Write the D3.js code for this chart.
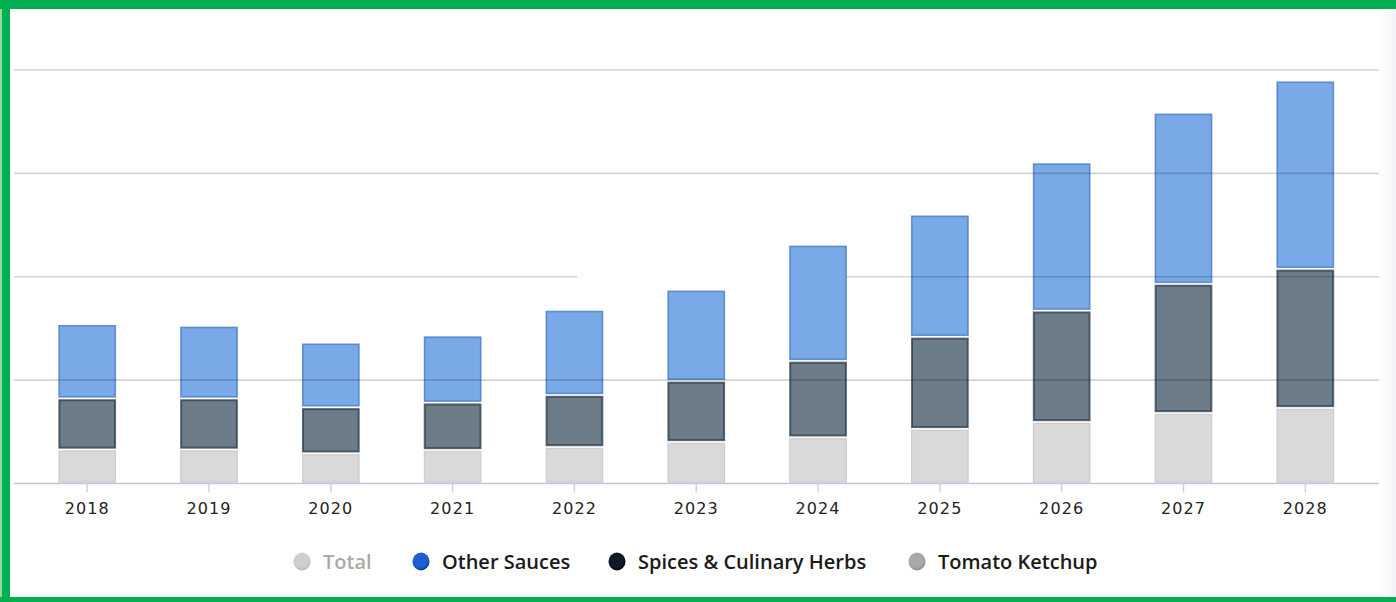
<!DOCTYPE html>
<html>
<head>
<meta charset="utf-8">
<script src="https://cdn.jsdelivr.net/npm/d3@7"></script>
<style>
  html, body { margin: 0; padding: 0; background: #fff; }
  svg { display: block; }
</style>
</head>
<body>
<svg id="chart" width="1396" height="602"></svg>
<script>
// ---- data (units: one gridline step = 100) ----
const years = ["2018","2019","2020","2021","2022","2023","2024","2025","2026","2027","2028"];
const tomatoKetchup = [32.9, 32.9, 29.2, 32.4, 35.3, 40.2, 44.7, 52.8, 59.5, 68.2, 73.1];
const spicesHerbs   = [49.4, 49.4, 44.5, 45.8, 50.3, 59.1, 73.9, 89.1, 107.7, 124.9, 134.6];
const otherSauces   = [71.8, 70.2, 62.5, 64.9, 82.3, 88.1, 112.3, 118.1, 143.3, 165.5, 182.0];
const gridTicks = [0, 100, 200, 300, 400];
const legendItems = ["Total", "Other Sauces", "Spices & Culinary Herbs", "Tomato Ketchup"];

const seriesKeys = ["ketchup", "spices", "other"];
const seriesStyle = {
  ketchup: { fill: "#d9d9d9", stroke: "#c6c6c6", sw: 1.2, so: 0.8 },
  spices:  { fill: "#6c7c89", stroke: "#2b3a48", sw: 2, so: 0.75 },
  other:   { fill: "#79a9e7", stroke: "#4f80c6", sw: 1.6, so: 0.85 }
};
const legendStyle = [
  { dot: "#cfcfcf", rim: "#b5b5b5", text: "#a9a9a9" },
  { dot: "#1b5fd0", rim: "#0c3a8e", text: "#1a1a1a" },
  { dot: "#0e1a28", rim: "#000000", text: "#1a1a1a" },
  { dot: "#a9a9a9", rim: "#8a8a8a", text: "#1a1a1a" }
];

const table = years.map((y, i) => ({
  year: y, ketchup: tomatoKetchup[i], spices: spicesHerbs[i], other: otherSauces[i]
}));

const svg = d3.select("#chart");

// ---- scales ----
const x = d3.scaleBand().domain(years).range([26.3, 1366.2])
  .paddingInner(0.526).paddingOuter(0.263);
const y = d3.scaleLinear().domain([0, 400]).range([483.5, 70]);
const gridX0 = 14, gridX1 = 1379;

// faint right-edge shade
const defs = svg.append("defs");
const shade = defs.append("linearGradient").attr("id", "shade").attr("x1", 0).attr("x2", 1);
shade.append("stop").attr("offset", 0).attr("stop-color", "#ffffff");
shade.append("stop").attr("offset", 1).attr("stop-color", "#f2f3f7");
svg.append("rect").attr("x", 1380).attr("y", 0).attr("width", 16).attr("height", 602).attr("fill", "url(#shade)");

// ---- bars ----
const stack = d3.stack().keys(seriesKeys)(table);
const g = svg.append("g");
stack.forEach(layer => {
  const st = seriesStyle[layer.key];
  g.selectAll(null).data(layer).join("rect")
    .attr("x", d => x(d.data.year) + st.sw / 2)
    .attr("width", x.bandwidth() - st.sw)
    .attr("y", d => y(d[1]) + 0.8 + st.sw / 2)
    .attr("height", d => Math.max(0, y(d[0]) - y(d[1]) - 1.6 - st.sw))
    .attr("fill", st.fill)
    .attr("stroke", st.stroke)
    .attr("stroke-opacity", st.so)
    .attr("stroke-width", st.sw);
});

// ---- gridlines (drawn over bars, translucent) ----
const gridG = svg.append("g");
gridTicks.filter(t => t > 0).forEach(t => {
  if (t === 200) {
    // this line shows a gap in the reference between the 2022 and 2024 columns
    gridG.append("line").attr("x1", gridX0).attr("x2", x("2022") + x.bandwidth() / 2 + 3)
      .attr("y1", y(t)).attr("y2", y(t));
    gridG.append("line").attr("x1", x("2024") + x.bandwidth()).attr("x2", gridX1)
      .attr("y1", y(t)).attr("y2", y(t));
  } else {
    gridG.append("line").attr("x1", gridX0).attr("x2", gridX1).attr("y1", y(t)).attr("y2", y(t));
  }
});
gridG.selectAll("line").attr("stroke", "rgba(0,0,0,0.17)").attr("stroke-width", 1.6);

// ---- x axis ----
svg.append("line").attr("x1", gridX0).attr("x2", gridX1)
  .attr("y1", y(0)).attr("y2", y(0))
  .attr("stroke", "#bfc7da").attr("stroke-width", 1.6);
const xAxis = d3.axisBottom(x).tickSize(9).tickPadding(10);
const ax = svg.append("g").attr("transform", `translate(0,${y(0)})`).call(xAxis);
ax.select(".domain").remove();
ax.selectAll(".tick line").attr("stroke", "#c9d3e6").attr("stroke-width", 1.5);
ax.selectAll(".tick text")
  .attr("fill", "#222")
  .style("font-family", "'DejaVu Sans', sans-serif")
  .style("font-size", "16px")
  .style("letter-spacing", "1.1px");

// ---- legend ----
const legX = [302, 421, 617, 917];
const lg = svg.append("g");
legendItems.forEach((name, i) => {
  const s = legendStyle[i];
  const grad = defs.append("radialGradient").attr("id", "lg" + i)
    .attr("cx", "45%").attr("cy", "40%").attr("r", "60%");
  grad.append("stop").attr("offset", "0%").attr("stop-color", s.dot);
  grad.append("stop").attr("offset", "70%").attr("stop-color", s.dot);
  grad.append("stop").attr("offset", "100%").attr("stop-color", s.rim);
  lg.append("ellipse").attr("cx", legX[i]).attr("cy", 561.5).attr("rx", 8.5).attr("ry", 9)
    .attr("fill", `url(#lg${i})`);
  lg.append("text").attr("x", legX[i] + 21).attr("y", 561.5)
    .attr("dominant-baseline", "central")
    .attr("fill", s.text)
    .style("font-family", "'Open Sans', sans-serif")
    .style("font-weight", 600)
    .style("font-size", "20px")
    .text(name);
});

// ---- green frame ----
svg.append("rect").attr("x", 0).attr("y", 0).attr("width", 10).attr("height", 602).attr("fill", "#00b050");
svg.append("rect").attr("x", 0).attr("y", 0).attr("width", 2).attr("height", 602).attr("fill", "#8fdc9f");
svg.append("rect").attr("x", 0).attr("y", 0).attr("width", 1396).attr("height", 9).attr("fill", "#00b050");
svg.append("rect").attr("x", 0).attr("y", 597).attr("width", 1396).attr("height", 5).attr("fill", "#00b050");
</script>
</body>
</html>
